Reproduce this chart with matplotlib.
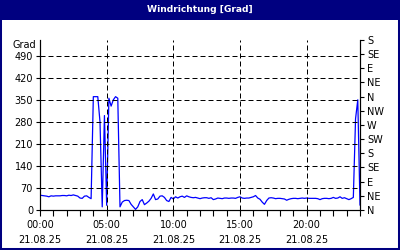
import numpy as np
import matplotlib
matplotlib.use('Agg')
import matplotlib.pyplot as plt
from matplotlib.patches import Rectangle

# Windrichtung in Grad, 10-Minuten-Werte ab 00:00
grad = [47, 46, 45, 44, 42, 45, 44, 45, 45, 45, 46, 46, 45, 47, 46, 48, 46, 44, 38, 37, 44, 45, 40, 36,
        360, 360, 360, 280, 10, 300, 15, 355, 330, 350, 360, 355, 10,
        25, 30, 31, 30, 18, 10, 2, 10, 27, 33, 17, 22, 28, 37, 51, 33, 35, 44, 45, 40, 30, 27, 40, 35,
        42, 38, 42, 44, 40, 45, 42, 40, 39, 40,
        38, 36, 38, 39, 39, 37, 39, 33, 35, 38, 37, 36, 38, 38, 37, 38, 38, 37, 40, 42, 38, 37, 38, 38,
        40, 42, 46, 38, 34, 25, 18, 30, 38, 39, 38, 36, 37, 37,
        36, 35, 31, 34, 36, 37, 37, 36, 37, 38, 37, 38, 37, 37, 37, 37, 36, 33, 36, 37, 37, 36, 37, 40,
        37, 38, 42, 37, 39, 36, 33, 36,
        40, 290, 350, 16]
stunden = np.arange(len(grad)) / 6.0

y_ticks = [0, 70, 140, 210, 280, 350, 420, 490]
rose_ticks = [0, 45, 90, 135, 180, 225, 270, 315, 360, 405, 450, 495, 540]
rose_labels = ['N', 'NE', 'E', 'SE', 'S', 'SW', 'W', 'NW', 'N', 'NE', 'E', 'SE', 'S']
x_ticks = [0, 5, 10, 15, 20]
x_labels = ['00:00\n21.08.25', '05:00\n21.08.25', '10:00\n21.08.25', '15:00\n21.08.25', '20:00\n21.08.25']

navy = '#000080'
fs = 7

fig = plt.figure(figsize=(4, 2.5), dpi=100)
fig.patch.set_facecolor('white')
# Titelleiste und Rahmen
fig.patches.append(Rectangle((0, 1 - 20 / 250), 1, 20 / 250, transform=fig.transFigure,
                             facecolor=navy, edgecolor='none'))
fig.patches.append(Rectangle((0, 0), 1, 1, transform=fig.transFigure, fill=False,
                             edgecolor=navy, lw=2.9))
fig.text(0.5, 1 - 10 / 250, 'Windrichtung [Grad]', color='white', fontsize=6.6,
         fontweight='bold', ha='center', va='center')

ax = fig.add_axes([0.1, 0.16, 0.8, 0.68])
ax.plot(stunden, grad, color='#0000ff', lw=0.9)
ax.set_xlim(0, 24)
ax.set_ylim(0, 540)

ax.set_yticks(y_ticks)
ax.set_yticklabels([str(v) for v in y_ticks], fontsize=fs)
ax.set_xticks(x_ticks)
ax.set_xticklabels(x_labels, fontsize=fs, linespacing=1.6)
ax.set_xticks(range(0, 25), minor=True)
ax.tick_params(axis='x', which='both', length=4, width=0.8, direction='out', pad=3)
ax.tick_params(axis='y', length=3, width=0.8, pad=2)

for v in y_ticks[1:]:
    ax.axhline(v, color='black', lw=0.72, dashes=(5, 3))
for v in x_ticks[1:]:
    ax.axvline(v, color='black', lw=0.72, dashes=(5, 3))

ax.spines['top'].set_visible(False)
for s in ['left', 'bottom', 'right']:
    ax.spines[s].set_linewidth(0.8)

ax2 = ax.twinx()
ax2.set_ylim(0, 540)
ax2.set_yticks(rose_ticks)
ax2.set_yticklabels(rose_labels, fontsize=fs)
ax2.tick_params(axis='y', length=3, width=0.8, pad=2)
ax2.spines['top'].set_visible(False)
ax2.spines['right'].set_linewidth(0.8)

fig.text(36 / 400, 1 - 45 / 250, 'Grad', fontsize=fs, ha='right', va='center')

fig.savefig('out.png', dpi=100)
